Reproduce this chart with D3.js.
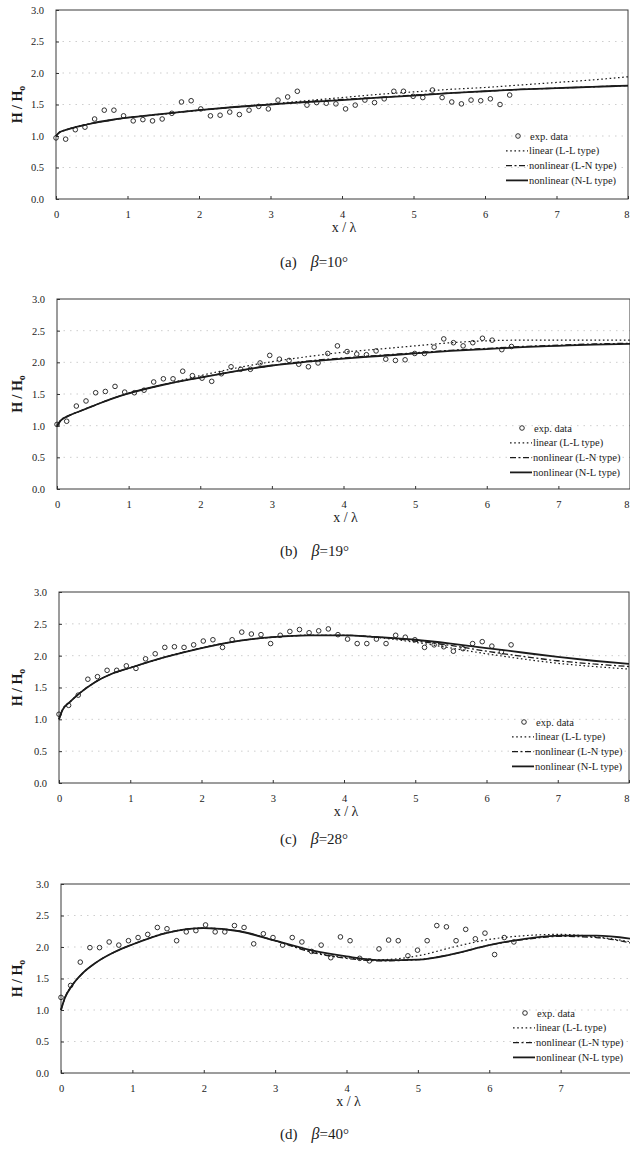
<!DOCTYPE html>
<html>
<head>
<meta charset="utf-8">
<script src="https://cdn.jsdelivr.net/npm/d3@7"></script>
<style>
  body { margin: 0; background: #fff; }
  svg { display: block; }
  text { font-family: "Liberation Serif", "Times New Roman", serif; fill: #1b1b1b; }
</style>
</head>
<body>
<svg id="fig" width="630" height="1151"></svg>
<script>
// Measured positions x/λ of the experimental points
const expX = [0, 0.135, 0.27, 0.405, 0.54, 0.675, 0.81, 0.945, 1.08, 1.215, 1.35, 1.485,
  1.62, 1.755, 1.89, 2.025, 2.16, 2.295, 2.43, 2.565, 2.7, 2.835, 2.97, 3.105,
  3.24, 3.375, 3.51, 3.645, 3.78, 3.915, 4.05, 4.185, 4.32, 4.455, 4.59, 4.725,
  4.86, 4.995, 5.13, 5.265, 5.4, 5.535, 5.67, 5.805, 5.94, 6.075, 6.21, 6.345];

// Stations at which the computed curves are tabulated
const curveX = [0, 0.05, 0.15, 0.3, 0.5, 0.75, 1, 1.5, 2, 2.5, 3, 3.5, 4, 4.5, 5, 5.5, 6, 6.5, 7, 7.5, 8];

// (a) beta = 10 deg
const expA = [0.97, 0.95, 1.10, 1.14, 1.27, 1.41, 1.41, 1.32, 1.24, 1.26, 1.24, 1.27,
  1.36, 1.54, 1.56, 1.43, 1.32, 1.33, 1.38, 1.34, 1.41, 1.47, 1.43, 1.57,
  1.62, 1.71, 1.49, 1.53, 1.52, 1.51, 1.43, 1.49, 1.57, 1.53, 1.59, 1.71,
  1.71, 1.63, 1.61, 1.73, 1.61, 1.54, 1.51, 1.57, 1.56, 1.59, 1.50, 1.65];
const llA = [1.00, 1.06, 1.10, 1.15, 1.20, 1.25, 1.29, 1.35, 1.41, 1.46, 1.51, 1.56, 1.61, 1.66, 1.70, 1.74, 1.77, 1.81, 1.85, 1.89, 1.94];
const lnA = [1.00, 1.06, 1.10, 1.15, 1.20, 1.25, 1.29, 1.35, 1.41, 1.46, 1.50, 1.54, 1.58, 1.61, 1.65, 1.68, 1.71, 1.74, 1.76, 1.78, 1.80];
const nlA = [1.00, 1.06, 1.10, 1.15, 1.20, 1.25, 1.29, 1.35, 1.41, 1.46, 1.50, 1.54, 1.57, 1.61, 1.64, 1.68, 1.71, 1.74, 1.76, 1.78, 1.80];

// (b) beta = 19 deg
const expB = [1.02, 1.07, 1.31, 1.39, 1.52, 1.54, 1.62, 1.53, 1.52, 1.56, 1.69, 1.74,
  1.74, 1.86, 1.79, 1.75, 1.70, 1.82, 1.93, 1.89, 1.89, 1.99, 2.11, 2.05,
  2.03, 1.97, 1.93, 1.99, 2.14, 2.26, 2.17, 2.13, 2.12, 2.18, 2.05, 2.03,
  2.04, 2.14, 2.14, 2.24, 2.37, 2.31, 2.26, 2.31, 2.38, 2.35, 2.20, 2.25];
const llB = [1.00, 1.08, 1.15, 1.22, 1.31, 1.42, 1.51, 1.65, 1.79, 1.91, 2.01, 2.09, 2.16, 2.21, 2.26, 2.31, 2.34, 2.35, 2.35, 2.35, 2.35];
const lnB = [1.00, 1.08, 1.15, 1.22, 1.31, 1.42, 1.51, 1.65, 1.76, 1.86, 1.95, 2.02, 2.07, 2.11, 2.15, 2.19, 2.22, 2.25, 2.27, 2.29, 2.30];
const nlB = [1.00, 1.08, 1.15, 1.22, 1.31, 1.42, 1.51, 1.65, 1.76, 1.86, 1.95, 2.01, 2.06, 2.10, 2.14, 2.18, 2.21, 2.24, 2.26, 2.28, 2.29];

// (c) beta = 28 deg
const expC = [1.08, 1.22, 1.38, 1.63, 1.67, 1.77, 1.77, 1.84, 1.80, 1.95, 2.03, 2.13,
  2.14, 2.13, 2.17, 2.23, 2.25, 2.13, 2.25, 2.37, 2.34, 2.33, 2.19, 2.32,
  2.38, 2.41, 2.36, 2.39, 2.42, 2.33, 2.26, 2.19, 2.19, 2.26, 2.19, 2.32,
  2.29, 2.25, 2.13, 2.17, 2.14, 2.07, 2.11, 2.19, 2.22, 2.15, 2.06, 2.17];
const llC = [1.00, 1.15, 1.27, 1.42, 1.58, 1.72, 1.81, 1.98, 2.12, 2.23, 2.29, 2.32, 2.32, 2.28, 2.21, 2.12, 2.03, 1.95, 1.88, 1.83, 1.79];
const lnC = [1.00, 1.15, 1.27, 1.42, 1.58, 1.72, 1.81, 1.98, 2.12, 2.23, 2.29, 2.32, 2.32, 2.29, 2.23, 2.16, 2.07, 1.99, 1.92, 1.87, 1.83];
const nlC = [1.00, 1.15, 1.27, 1.42, 1.58, 1.72, 1.81, 1.98, 2.12, 2.23, 2.29, 2.32, 2.32, 2.29, 2.25, 2.19, 2.12, 2.05, 1.98, 1.92, 1.87];

// (d) beta = 40 deg
const expD = [1.20, 1.39, 1.76, 1.99, 1.99, 2.08, 2.03, 2.10, 2.15, 2.20, 2.31, 2.29,
  2.10, 2.24, 2.26, 2.35, 2.24, 2.24, 2.34, 2.31, 2.05, 2.21, 2.15, 2.03,
  2.15, 2.08, 1.93, 2.03, 1.83, 2.16, 2.10, 1.82, 1.78, 1.97, 2.11, 2.10,
  1.86, 1.95, 2.10, 2.34, 2.32, 2.10, 2.28, 2.13, 2.22, 1.88, 2.15, 2.08];
const llD = [1.00, 1.18, 1.38, 1.58, 1.76, 1.92, 2.04, 2.23, 2.30, 2.25, 2.10, 1.93, 1.83, 1.80, 1.86, 2.00, 2.12, 2.18, 2.20, 2.16, 2.08];
const lnD = [1.00, 1.18, 1.38, 1.58, 1.76, 1.92, 2.04, 2.23, 2.30, 2.25, 2.10, 1.92, 1.82, 1.78, 1.80, 1.89, 2.03, 2.12, 2.17, 2.15, 2.06];
const nlD = [1.00, 1.18, 1.38, 1.58, 1.76, 1.92, 2.04, 2.23, 2.30, 2.25, 2.10, 1.95, 1.85, 1.79, 1.80, 1.89, 2.03, 2.13, 2.18, 2.18, 2.13];

const yTicks = [0, 0.5, 1.0, 1.5, 2.0, 2.5, 3.0];
const xTicks = [0, 1, 2, 3, 4, 5, 6, 7, 8];
const legendLabels = ["exp. data", "linear (L-L type)", "nonlinear (L-N type)", "nonlinear (N-L type)"];
const panelTags = ["(a)", "(b)", "(c)", "(d)"];
const betaValues = ["10°", "19°", "28°", "40°"];

// Page layout of the four stacked panels
const W = 630;
const layout = [
  { left: 56, right: 628, top: 10,  bottom: 199,  leg: { x: 506, y: 136 },  cap: 262 },
  { left: 57, right: 630, top: 299, bottom: 489,  leg: { x: 510, y: 428 },  cap: 551 },
  { left: 59, right: 629, top: 592, bottom: 783,  leg: { x: 512, y: 722 },  cap: 839 },
  { left: 61, right: 632, top: 884, bottom: 1073, leg: { x: 513, y: 1013 }, cap: 1134 }
];
const series = [
  { exp: expA, ll: llA, ln: lnA, nl: nlA },
  { exp: expB, ll: llB, ln: lnB, nl: nlB },
  { exp: expC, ll: llC, ln: lnC, nl: nlC },
  { exp: expD, ll: llD, ln: lnD, nl: nlD }
];

const ink = "#1b1b1b";
const serif = '"Liberation Serif", "Times New Roman", serif';
const styles = {
  ll: { width: 1.2, dash: "1.6,2.6" },
  ln: { width: 1.3, dash: "6,2.5,2,2.5" },
  nl: { width: 1.8, dash: null }
};

const svg = d3.select("#fig");

series.forEach((s, i) => {
  const L = layout[i];
  const x = d3.scaleLinear().domain([0, 8]).range([L.left, L.right]);
  const y = d3.scaleLinear().domain([0, 3]).range([L.bottom, L.top]);
  const g = svg.append("g");

  // faint dotted grid
  g.selectAll("line.grid").data(yTicks.filter(t => t > 0 && t < 3)).join("line")
    .attr("x1", L.left).attr("x2", L.right)
    .attr("y1", d => y(d)).attr("y2", d => y(d))
    .attr("stroke", "#9a9a9a").attr("stroke-width", 0.8)
    .attr("stroke-dasharray", "1.5,5").attr("opacity", 0.6);

  // frame
  g.append("rect")
    .attr("x", L.left).attr("y", L.top)
    .attr("width", L.right - L.left).attr("height", L.bottom - L.top)
    .attr("fill", "none").attr("stroke", "#3a3a3a").attr("stroke-width", 1);

  // axes with inward ticks; labels beyond the page edge are left out
  const visTicks = xTicks.filter(t => x(t) <= W);
  const xAxis = d3.axisBottom(x).tickValues(visTicks).tickSizeInner(-3).tickSizeOuter(0)
    .tickPadding(12).tickFormat(d3.format("d"));
  const gx = g.append("g").attr("transform", `translate(0,${L.bottom})`).call(xAxis)
    .attr("font-family", serif);
  gx.select(".domain").remove();
  gx.selectAll("line").attr("stroke", "#333");
  gx.selectAll("text").attr("font-size", 10.5).attr("fill", ink).style("font-family", serif)
    .each(function (d) {
      // keep the last label inside the page
      if (x(d) + 3 > W) d3.select(this).attr("text-anchor", "end").attr("x", W - 1 - x(d));
    });

  const yAxis = d3.axisLeft(y).tickValues(yTicks).tickSizeInner(-3).tickSizeOuter(0)
    .tickPadding(12).tickFormat(d3.format(".1f"));
  const gy = g.append("g").attr("transform", `translate(${L.left},0)`).call(yAxis)
    .attr("font-family", serif);
  gy.select(".domain").remove();
  gy.selectAll("line").attr("stroke", "#333");
  gy.selectAll("text").attr("font-size", 10.5).attr("fill", ink).style("font-family", serif);

  // computed curves
  const line = d3.line().x(d => x(d[0])).y(d => y(d[1])).curve(d3.curveMonotoneX);
  ["ll", "ln", "nl"].forEach(k => {
    g.append("path")
      .datum(curveX.map((cx, j) => [cx, s[k][j]]))
      .attr("d", line)
      .attr("fill", "none").attr("stroke", ink)
      .attr("stroke-width", styles[k].width)
      .attr("stroke-dasharray", styles[k].dash);
  });

  // measured data
  g.selectAll("circle.exp").data(expX.map((ex, j) => [ex, s.exp[j]])).join("circle")
    .attr("cx", d => x(d[0])).attr("cy", d => y(d[1])).attr("r", 2.3)
    .attr("fill", "none").attr("stroke", ink).attr("stroke-width", 0.9);

  // axis titles
  const midY = (L.top + L.bottom) / 2;
  const yl = g.append("text")
    .attr("transform", `translate(22,${midY}) rotate(-90)`)
    .attr("text-anchor", "middle").attr("font-size", 14).attr("font-weight", "bold");
  yl.append("tspan").text("H / H");
  yl.append("tspan").attr("font-size", 10).attr("dy", 3).text("o");

  g.append("text")
    .attr("x", x(4) + 2).attr("y", L.bottom + 33)
    .attr("text-anchor", "middle").attr("font-size", 14).text("x / λ");

  // caption
  const cap = g.append("text").attr("x", 280).attr("y", L.cap + 5).attr("font-size", 15);
  cap.append("tspan").text(panelTags[i]);
  cap.append("tspan").attr("dx", 14).attr("font-style", "italic").attr("font-size", 16).text("β");
  cap.append("tspan").text("=" + betaValues[i]);

  // legend
  const lg = g.append("g").attr("transform", `translate(${L.leg.x},${L.leg.y})`);
  const rowH = 14.8;
  legendLabels.forEach((lab, r) => {
    const yy = r * rowH;
    if (r === 0) {
      lg.append("circle").attr("cx", 12).attr("cy", yy).attr("r", 2.3)
        .attr("fill", "none").attr("stroke", ink).attr("stroke-width", 0.9);
    } else {
      const k = ["ll", "ln", "nl"][r - 1];
      lg.append("line").attr("x1", 0).attr("x2", 22).attr("y1", yy).attr("y2", yy)
        .attr("stroke", ink).attr("stroke-width", styles[k].width)
        .attr("stroke-dasharray", styles[k].dash);
    }
    lg.append("text").attr("x", r === 0 ? 24 : 23).attr("y", yy + 3.5)
      .attr("font-size", 10.5).text(lab);
  });
});
</script>
</body>
</html>
